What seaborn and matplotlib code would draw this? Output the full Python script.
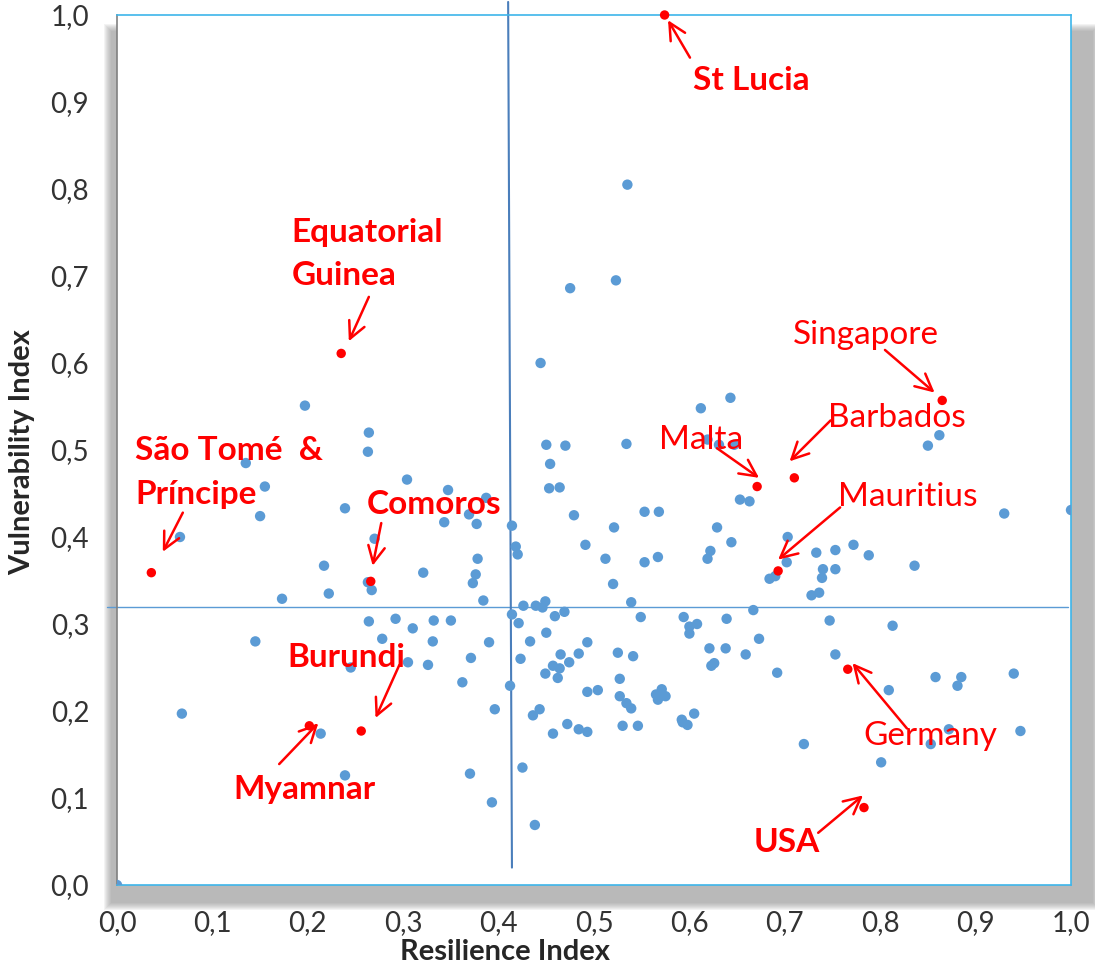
import matplotlib
matplotlib.use("Agg")
import matplotlib.pyplot as plt
import matplotlib.patches as mpatches
import seaborn as sns
import pandas as pd

# Resilience / vulnerability of all countries
resilience = [0.535, 0.523, 0.475, 0.444, 0.197, 0.135, 0.155, 0.239, 0.150, 0.066,
              0.264, 0.263, 0.450, 0.470, 0.454, 0.304, 0.453, 0.464, 0.347, 0.387,
              0.369, 0.343, 0.377, 0.414, 0.479, 0.270, 0.643, 0.612, 0.534, 0.619,
              0.631, 0.647, 0.653, 0.663, 0.553, 0.568, 0.521, 0.629, 0.703, 0.644,
              0.862, 0.850, 0.930, 1.000, 0.217, 0.222, 0.173, 0.145, 0.245, 0.068,
              0.418, 0.420, 0.491, 0.378, 0.321, 0.376, 0.373, 0.263, 0.267, 0.384,
              0.426, 0.439, 0.446, 0.449, 0.414, 0.469, 0.459, 0.264, 0.292, 0.332,
              0.350, 0.421, 0.310, 0.450, 0.278, 0.331, 0.390, 0.433, 0.493, 0.465,
              0.484, 0.371, 0.423, 0.474, 0.457, 0.464, 0.305, 0.326, 0.449, 0.462,
              0.362, 0.412, 0.493, 0.504, 0.396, 0.443, 0.436, 0.512, 0.553, 0.567,
              0.622, 0.619, 0.733, 0.753, 0.702, 0.684, 0.690, 0.740, 0.753, 0.739,
              0.520, 0.728, 0.736, 0.539, 0.667, 0.549, 0.594, 0.608, 0.600, 0.600,
              0.639, 0.747, 0.673, 0.621, 0.638, 0.659, 0.525, 0.541, 0.753, 0.626,
              0.623, 0.692, 0.527, 0.527, 0.571, 0.565, 0.575, 0.567, 0.534, 0.539,
              0.605, 0.592, 0.772, 0.788, 0.836, 0.813, 0.858, 0.885, 0.881, 0.940,
              0.809, 0.2135, 0.239, 0.000, 0.457, 0.472, 0.484, 0.493, 0.370, 0.425,
              0.393, 0.438, 0.530, 0.546, 0.593, 0.598, 0.720, 0.801, 0.853, 0.872,
              0.947]
vulnerability = [0.805, 0.695, 0.686, 0.600, 0.551, 0.485, 0.458, 0.433, 0.424, 0.400,
                 0.520, 0.498, 0.506, 0.505, 0.484, 0.466, 0.456, 0.457, 0.454, 0.445,
                 0.426, 0.417, 0.415, 0.413, 0.425, 0.398, 0.560, 0.548, 0.507, 0.512,
                 0.506, 0.506, 0.443, 0.441, 0.429, 0.429, 0.411, 0.411, 0.400, 0.394,
                 0.517, 0.505, 0.427, 0.431, 0.367, 0.335, 0.329, 0.280, 0.250, 0.197,
                 0.389, 0.380, 0.391, 0.375, 0.359, 0.357, 0.347, 0.348, 0.339, 0.327,
                 0.321, 0.321, 0.319, 0.326, 0.311, 0.314, 0.309, 0.303, 0.306, 0.304,
                 0.304, 0.301, 0.295, 0.290, 0.283, 0.280, 0.279, 0.280, 0.279, 0.265,
                 0.266, 0.261, 0.260, 0.256, 0.252, 0.249, 0.256, 0.253, 0.243, 0.238,
                 0.233, 0.229, 0.222, 0.224, 0.202, 0.202, 0.195, 0.375, 0.371, 0.377,
                 0.384, 0.375, 0.382, 0.385, 0.371, 0.352, 0.355, 0.363, 0.363, 0.353,
                 0.346, 0.333, 0.336, 0.325, 0.316, 0.308, 0.308, 0.300, 0.297, 0.289,
                 0.306, 0.304, 0.283, 0.272, 0.272, 0.265, 0.267, 0.263, 0.265, 0.255,
                 0.252, 0.244, 0.237, 0.217, 0.225, 0.219, 0.217, 0.213, 0.209, 0.203,
                 0.197, 0.190, 0.391, 0.379, 0.367, 0.298, 0.239, 0.239, 0.229, 0.243,
                 0.224, 0.174, 0.126, 0.000, 0.174, 0.185, 0.179, 0.176, 0.128, 0.135,
                 0.095, 0.069, 0.183, 0.183, 0.187, 0.184, 0.162, 0.141, 0.162, 0.179,
                 0.177]

# Highlighted countries
hl_names = ["St Lucia", "Equatorial Guinea", "Singapore", "Malta", "Barbados",
            "São Tomé & Príncipe", "Comoros", "Mauritius", "Germany", "Burundi",
            "Myanmar", "USA"]
hl_resilience = [0.574, 0.235, 0.865, 0.671, 0.710, 0.036, 0.266, 0.693, 0.766, 0.256,
                 0.2016, 0.783]
hl_vulnerability = [1.000, 0.611, 0.557, 0.458, 0.468, 0.359, 0.349, 0.361, 0.248, 0.177,
                    0.183, 0.089]

# Label text, text anchor (left, middle), arrow tail, arrow tip, bold?
labels = ["St Lucia", "Equatorial\nGuinea", "Singapore", "Malta", "Barbados",
          "São Tomé  &\nPríncipe", "Comoros", "Mauritius", "Germany", "Burundi",
          "Myamnar", "USA"]
label_pos = [(0.604, 0.925), (0.183, 0.725), (0.708, 0.632), (0.568, 0.511),
             (0.745, 0.537), (0.019, 0.474), (0.262, 0.437), (0.756, 0.446),
             (0.782, 0.171), (0.179, 0.261), (0.122, 0.110), (0.667, 0.049)]
arrow_tail = [(0.6006, 0.951), (0.264, 0.676), (0.805, 0.615), (0.629, 0.502),
              (0.748, 0.534), (0.069, 0.428), (0.277, 0.416), (0.758, 0.434),
              (0.828, 0.180), (0.296, 0.253), (0.170, 0.139), (0.735, 0.060)]
arrow_tip = [(0.5776, 0.994), (0.243, 0.625), (0.857, 0.566), (0.673, 0.468),
             (0.705, 0.487), (0.048, 0.383), (0.268, 0.367), (0.693, 0.374),
             (0.771, 0.255), (0.271, 0.192), (0.211, 0.186), (0.782, 0.103)]
label_bold = [True, True, False, False, False, True, True, False, False, True, True, True]

# Mean lines
h_line_x = [-0.01, 0.997]
h_line_y = [0.320, 0.320]
v_line_x = [0.410, 0.414]
v_line_y = [1.015, 0.020]

ticks = [i / 10 for i in range(11)]
tick_labels = [f"{t:.1f}".replace(".", ",") for t in ticks]

sns.set_style("white")
plt.rcParams['font.family'] = ['Lato', 'DejaVu Sans']

fig = plt.figure(figsize=(10.95, 9.63), dpi=100)
ax = fig.add_axes([117 / 1095, 1 - 885 / 963, 954 / 1095, 870 / 963])

# soft drop shadow behind plot area
W, H = 1095, 963
for k in range(8):
    grow = 8 - k
    rect = mpatches.Rectangle(((112 - grow) / W, 1 - (902 + grow) / H),
                              (980 + 2 * grow) / W, (870 + 2 * grow) / H,
                              transform=fig.transFigure, facecolor="#808080",
                              alpha=0.09, edgecolor="none", zorder=-10)
    fig.patches.append(rect)
ax.set_zorder(1)
ax.set_facecolor("white")

df = pd.DataFrame({"Resilience": resilience, "Vulnerability": vulnerability})
sns.scatterplot(data=df, x="Resilience", y="Vulnerability", ax=ax, color="#5B9BD5",
                s=56, edgecolor="none", zorder=3)
hl = pd.DataFrame({"Resilience": hl_resilience, "Vulnerability": hl_vulnerability,
                   "Country": hl_names})
sns.scatterplot(data=hl, x="Resilience", y="Vulnerability", ax=ax, color="#FF0000",
                s=46, edgecolor="none", zorder=4, clip_on=False)

ax.plot(h_line_x, h_line_y, color="#5B9BD5", lw=1.0, zorder=2, clip_on=False)
ax.plot(v_line_x, v_line_y, color="#4A7EBB", lw=1.5, zorder=2, clip_on=False)

for txt, pos, tail, tip, bold in zip(labels, label_pos, arrow_tail, arrow_tip, label_bold):
    ax.text(pos[0], pos[1], txt, color="#FF0000", fontsize=24,
            fontweight="bold" if bold else "normal", ha="left", va="center",
            linespacing=1.6, zorder=5)
    ax.annotate("", xy=tip, xytext=tail,
                arrowprops=dict(arrowstyle="->", color="#FF0000", lw=1.8,
                                mutation_scale=30, shrinkA=0, shrinkB=0), zorder=5)

ax.set_xlim(0, 1)
ax.set_ylim(0, 1)
ax.set_xticks(ticks)
ax.set_xticklabels(tick_labels)
ax.set_yticks(ticks)
ax.set_yticklabels(tick_labels)
ax.tick_params(axis="both", direction="out", length=6, width=1, color="#808080",
               labelsize=20, labelcolor="#333333")
ax.tick_params(axis="x", pad=12)
ax.tick_params(axis="y", pad=14)

for side in ["top", "right", "bottom"]:
    ax.spines[side].set_color("#3DB5EA")
    ax.spines[side].set_linewidth(1.2)
ax.spines["left"].set_color("#808080")
ax.spines["left"].set_linewidth(1.2)

ax.set_xlabel("Resilience Index", fontsize=21, fontweight="bold", color="#262626")
ax.set_ylabel("Vulnerability Index", fontsize=21, fontweight="bold", color="#262626")
ax.xaxis.set_label_coords(0.407, -0.062)
ax.yaxis.set_label_coords(-0.086, 0.498)

fig.savefig("out.png", dpi=100)
